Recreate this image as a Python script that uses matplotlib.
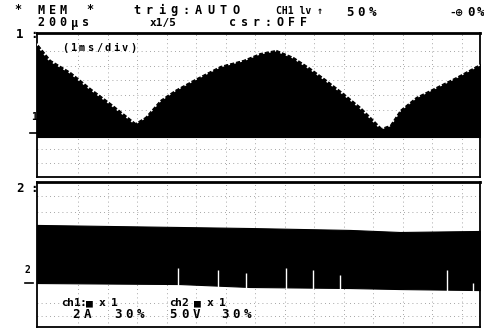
import numpy as np
import matplotlib
matplotlib.use("Agg")
import matplotlib.pyplot as plt
from matplotlib.lines import Line2D

W, H = 485, 333

# ch1 envelope (time in ms, amplitude in div above the trace baseline)
t1 = [0.00, 0.44, 1.12, 1.79, 2.47, 2.98, 3.32, 3.66, 4.17, 4.67, 5.35, 6.20, 6.98, 7.55,
      8.09, 8.67, 9.24, 9.79, 10.36, 10.94, 11.38, 11.65, 11.95, 12.29, 12.83, 13.51, 14.19, 15.00]
amp1 = [6.33, 5.24, 4.42, 3.33, 2.31, 1.50, 0.95, 1.36, 2.52, 3.20, 3.95, 4.83, 5.24, 5.71,
        5.92, 5.44, 4.69, 3.88, 2.99, 2.04, 1.16, 0.61, 0.82, 1.84, 2.72, 3.40, 4.08, 4.97]

# ch2 band (upper and lower edge, div)
t2 = [0.00, 4.84, 7.21, 10.60, 12.29, 15.00]
top2 = [3.95, 3.81, 3.74, 3.61, 3.47, 3.54]
bot2 = [0.00, -0.07, -0.27, -0.34, -0.41, -0.48]

# white gaps in the ch2 band
gap_t = [4.77, 6.13, 7.08, 8.43, 9.35, 10.26, 13.88, 14.76]
gap_top = [1.02, 0.88, 0.68, 1.02, 0.88, 0.54, 0.88, 0.00]

mono = ['DejaVu Sans Mono', 'DejaVu Sans']
fig = plt.figure(figsize=(W / 100, H / 100), dpi=100)
fig.patch.set_facecolor('white')


def put(x, y, s, size=9.0, pitch=None):
    # printer font: fixed pitch per character
    if pitch is None:
        fig.text(x / W, 1 - y / H, s, fontsize=size, family=mono, fontweight='bold',
                 va='center', ha='left', color='black')
        return
    for i, c in enumerate(s):
        if c != ' ':
            fig.text((x + i * pitch) / W, 1 - y / H, c, fontsize=size, family=mono,
                     fontweight='bold', va='center', ha='left', color='black')


def tick(x0, x1, y):
    fig.add_artist(Line2D([x0 / W, x1 / W], [1 - y / H, 1 - y / H], color='black', lw=1.2))


def setup(ax, ylo, yhi, hgrid):
    ax.set_xlim(0, 15)
    ax.set_ylim(ylo, yhi)
    ax.set_xticks([1.39 + k for k in range(14)])
    ax.set_yticks(hgrid)
    ax.tick_params(length=0, labelbottom=False, labelleft=False)
    ax.grid(True, color='#888888', lw=0.6, linestyle=(0, (1, 4)))
    ax.set_axisbelow(True)
    for s in ax.spines.values():
        s.set_linewidth(1.3)
        s.set_color('black')


ax1 = fig.add_axes([37 / W, 1 - 177 / H, 443 / W, 144 / H])
setup(ax1, -2.72, 7.07, [5.85, 4.85, 3.85, 2.85, 1.85, -0.8, -1.8])
ax1.fill_between(t1, 0, amp1, color='black', lw=0.8, zorder=3)
# ragged top edge of the sampled trace
ax1.plot(t1, amp1, color='white', lw=2.2, linestyle=(0, (0.6, 1.4)), zorder=4)
ax1.spines['top'].set_linewidth(2.0)

ax2 = fig.add_axes([37 / W, 1 - 327 / H, 443 / W, 145 / H])
setup(ax2, -2.99, 6.87, [5.92, 4.83, -1.36, -2.24])
ax2.fill_between(t2, bot2, top2, color='black', lw=0.8, zorder=3)
ax2.vlines(gap_t, -0.6, gap_top, color='white', lw=1.0, zorder=4)
ax2.spines['top'].set_linewidth(2.0)

# header
put(14, 10, '*', size=8.5)
put(37, 10, 'MEM', size=8.5, pitch=11.5)
put(86, 10, '*', size=8.5)
put(37, 23, '200µs', size=8.5, pitch=11.2)
put(133, 10, 'trig:AUTO', size=8.6, pitch=12.4)
put(150, 23, 'x1/5', size=8.0)
put(229, 23, 'csr:OFF', size=8.4, pitch=11.8)
put(276, 11, 'CH1 lv ↑', size=7.0)
put(346, 13, '50%', pitch=11.5)
put(449, 13, '-⊕', size=8.0)
put(467, 13, '0%', pitch=10.0)

put(16, 35, '1')
put(30, 35, ':')
put(62, 48, '(1ms/div)', size=7.4, pitch=8.5)
put(31, 117, '1', size=7.0)
tick(30, 37, 133)

put(16, 188, '2')
put(30, 188, ':')
put(25, 270, '2', size=7.0)
tick(25, 33, 283)

put(61, 303, 'ch1:■ x 1', size=8.2, pitch=6.3)
put(72, 314, '2A', pitch=12.0)
put(114, 314, '30%', pitch=11.5)
put(169, 303, 'ch2 ■ x 1', size=8.2, pitch=6.3)
put(169, 314, '50V', pitch=12.0)
put(221, 314, '30%', pitch=11.5)

fig.savefig('out.png', dpi=100)
